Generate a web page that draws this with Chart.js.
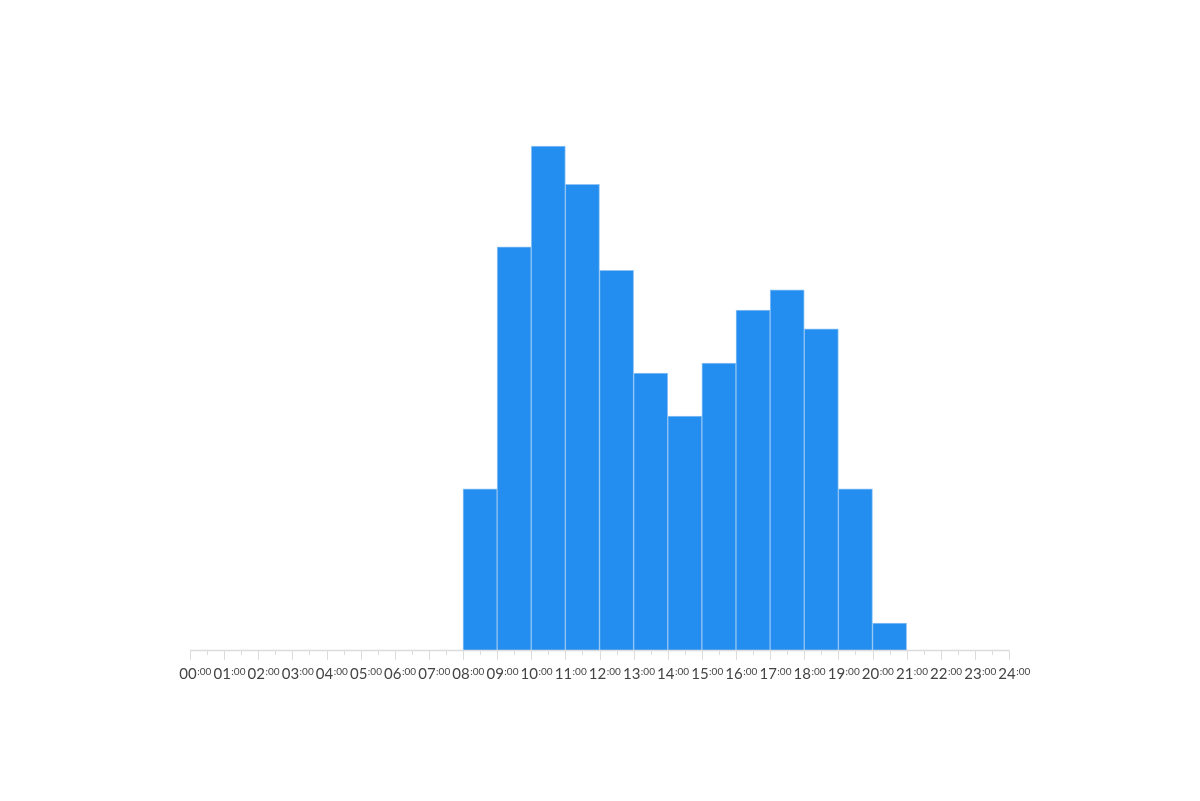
<!DOCTYPE html>
<html>
<head>
<meta charset="utf-8">
<script src="https://cdn.jsdelivr.net/npm/chart.js@4"></script>
<style>
  html, body { margin: 0; padding: 0; background: #fff; }
  #wrap { width: 1200px; height: 801px; }
</style>
</head>
<body>
<div id="wrap"><canvas id="myChart"></canvas></div>
<script>
// hour bins (start hour) and their heights
const hours = [8, 9, 10, 11, 12, 13, 14, 15, 16, 17, 18, 19, 20];
const counts = [24, 60, 75, 69.3, 56.5, 41.2, 34.8, 42.7, 50.6, 53.6, 47.8, 24, 4];
const tickHours = ['00', '01', '02', '03', '04', '05', '06', '07', '08', '09', '10', '11', '12',
  '13', '14', '15', '16', '17', '18', '19', '20', '21', '22', '23', '24'];

const points = hours.map((h, i) => ({ x: h + 0.5, y: counts[i] }));

// axis line, major/minor ticks and "HH:00" labels with raised minutes
const timeAxis = {
  id: 'timeAxis',
  afterDraw(chart) {
    const ctx = chart.ctx;
    const xs = chart.scales.x;
    const y0 = chart.chartArea.bottom;
    ctx.save();
    ctx.strokeStyle = '#dcdcdc';
    ctx.lineWidth = 1.5;
    ctx.beginPath();
    ctx.moveTo(xs.getPixelForValue(0), y0 + 0.5);
    ctx.lineTo(xs.getPixelForValue(24), y0 + 0.5);
    ctx.stroke();
    ctx.lineWidth = 1;
    for (let t = 0; t <= 48; t++) {
      const px = Math.round(xs.getPixelForValue(t / 2)) + 0.5;
      const len = t % 2 === 0 ? 10 : 5;
      ctx.beginPath();
      ctx.moveTo(px, y0);
      ctx.lineTo(px, y0 + len);
      ctx.stroke();
    }
    ctx.fillStyle = '#444';
    ctx.textBaseline = 'alphabetic';
    tickHours.forEach((lbl, i) => {
      const px = xs.getPixelForValue(i);
      ctx.font = '15px Lato';
      const w = ctx.measureText(lbl).width;
      const left = px - w / 2 - 2;
      ctx.fillText(lbl, left, y0 + 29);
      ctx.font = '10px Lato';
      ctx.fillText(':00', left + w + 0.5, y0 + 25);
    });
    ctx.restore();
  }
};

const ctx = document.getElementById('myChart').getContext('2d');
const myChart = new Chart(ctx, {
  type: 'bar',
  data: {
    datasets: [{
      data: points,
      backgroundColor: '#238ef0',
      borderColor: '#8fc3f5',
      borderWidth: 1,
      borderSkipped: 'bottom',
      barPercentage: 1,
      categoryPercentage: 1
    }]
  },
  options: {
    responsive: true,
    maintainAspectRatio: false,
    animation: false,
    layout: { padding: { left: 190, right: 191, top: 50, bottom: 0 } },
    plugins: {
      legend: { display: false },
      tooltip: { enabled: false }
    },
    scales: {
      x: {
        type: 'linear',
        min: 0,
        max: 24,
        offset: false,
        grid: { display: false },
        border: { display: false },
        ticks: { display: false },
        afterFit(scale) { scale.height = 151; }
      },
      y: {
        display: false,
        min: 0,
        max: 89.29
      }
    }
  },
  plugins: [timeAxis]
});
</script>
</body>
</html>
